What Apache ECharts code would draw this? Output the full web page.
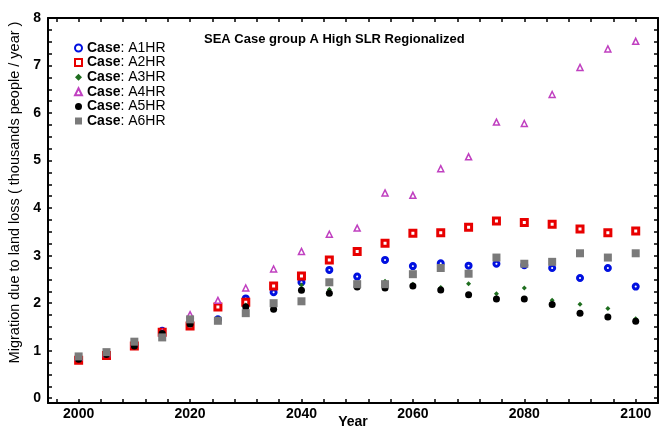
<!DOCTYPE html>
<html>
<head>
<meta charset="utf-8">
<script src="https://cdn.jsdelivr.net/npm/echarts@6/dist/echarts.min.js"></script>
<style>
  html, body { margin: 0; padding: 0; background: #fff; }
  #chart { width: 661px; height: 430px; }
</style>
</head>
<body>
<div id="chart"></div>
<script>
// years and values
const years = [2000, 2005, 2010, 2015, 2020, 2025, 2030, 2035, 2040, 2045, 2050,
               2055, 2060, 2065, 2070, 2075, 2080, 2085, 2090, 2095, 2100]
const a1hr = [0.85, 0.93, 1.12, 1.42, 1.58, 1.66, 2.10, 2.23, 2.44, 2.70, 2.56,
              2.91, 2.78, 2.84, 2.79, 2.83, 2.80, 2.74, 2.53, 2.74, 2.35]
const a2hr = [0.80, 0.90, 1.10, 1.39, 1.52, 1.92, 2.02, 2.36, 2.57, 2.91, 3.09,
              3.26, 3.47, 3.48, 3.60, 3.73, 3.70, 3.66, 3.56, 3.48, 3.52]
const a3hr = [0.85, 0.93, 1.12, 1.38, 1.60, 1.68, 1.96, 1.95, 2.38, 2.29, 2.38,
              2.46, 2.40, 2.33, 2.41, 2.20, 2.32, 2.06, 1.98, 1.89, 1.67]
const a4hr = [0.86, 0.94, 1.15, 1.38, 1.76, 2.06, 2.32, 2.72, 3.09, 3.45, 3.58,
              4.32, 4.27, 4.83, 5.08, 5.81, 5.78, 6.39, 6.96, 7.35, 7.51]
const a5hr = [0.82, 0.92, 1.10, 1.36, 1.56, 1.64, 1.92, 1.87, 2.27, 2.21, 2.34,
              2.32, 2.36, 2.28, 2.18, 2.09, 2.09, 1.97, 1.79, 1.71, 1.62]
const a6hr = [0.88, 0.97, 1.19, 1.28, 1.66, 1.63, 1.79, 2.00, 2.04, 2.44, 2.40,
              2.40, 2.61, 2.74, 2.62, 2.96, 2.83, 2.87, 3.05, 2.96, 3.05]

// tick labels and tick marks
const xLabels = [2000, 2020, 2040, 2060, 2080, 2100]
const xTicks = [1996, 2000, 2004, 2008, 2012, 2016, 2020, 2024, 2028, 2032, 2036, 2040,
                2044, 2048, 2052, 2056, 2060, 2064, 2068, 2072, 2076, 2080, 2084,
                2088, 2092, 2096, 2100, 2104]
const yLabels = [0, 1, 2, 3, 4, 5, 6, 7, 8]
const yTicks = [0, 0.25, 0.5, 0.75, 1, 1.25, 1.5, 1.75, 2, 2.25, 2.5, 2.75, 3, 3.25,
                3.5, 3.75, 4, 4.25, 4.5, 4.75, 5, 5.25, 5.5, 5.75, 6, 6.25, 6.5,
                6.75, 7, 7.25, 7.5, 7.75, 8]

const FONT = '"Liberation Sans", Arial, sans-serif'
const pairs = arr => years.map((y, i) => [y, arr[i]])

let chart = echarts.init(document.getElementById('chart'), null, { renderer: 'canvas' })

const axisLine = { show: true, onZero: false, lineStyle: { color: '#000', width: 2 } }
const tick = vals => ({ show: true, inside: true, length: 4, customValues: vals,
                        lineStyle: { color: '#000', width: 1.5 } })

let option = {
  animation: false,
  backgroundColor: '#fff',
  title: {
    text: 'SEA Case group A High SLR Regionalized',
    left: 199, top: 28,
    textStyle: { fontFamily: FONT, fontSize: 13, fontWeight: 'bold', color: '#000' }
  },
  legend: {
    orient: 'vertical',
    left: 69, top: 36,
    itemWidth: 7, itemHeight: 7, itemGap: 0.6,
    data: ['A1HR', 'A2HR', 'A3HR', 'A4HR', 'A5HR', 'A6HR'],
    formatter: n => '{b|Case}: ' + n,
    textStyle: {
      fontFamily: FONT, fontSize: 14, color: '#000', lineHeight: 14,
      rich: { b: { fontFamily: FONT, fontSize: 14, fontWeight: 'bold', color: '#000', lineHeight: 14 } }
    }
  },
  grid: { left: 48, right: 3, top: 18, bottom: 27, outerBoundsMode: 'none' },
  xAxis: [{
    type: 'value', min: 1994.5, max: 2104, position: 'bottom',
    name: 'Year', nameLocation: 'middle', nameGap: 12, nameMoveOverlap: false,
    nameTextStyle: { fontFamily: FONT, fontSize: 14, fontWeight: 'bold', color: '#000' },
    axisLine: axisLine, axisTick: tick(xTicks),
    axisLabel: { customValues: xLabels, margin: 4, fontFamily: FONT, fontSize: 14,
                 fontWeight: 'bold', color: '#000', formatter: v => String(v) },
    splitLine: { show: false }
  }, {
    type: 'value', min: 1994.5, max: 2104, position: 'top',
    axisLine: axisLine, axisTick: tick(xTicks),
    axisLabel: { show: false }, splitLine: { show: false }
  }],
  yAxis: [{
    type: 'value', min: -0.1, max: 8, position: 'left',
    name: 'Migration due to land loss ( thousands people / year )',
    nameLocation: 'middle', nameGap: 26, nameMoveOverlap: false,
    nameTextStyle: { fontFamily: FONT, fontSize: 14.5, color: '#000', padding: [0, 0, 0, 36] },
    axisLine: axisLine, axisTick: tick(yTicks),
    axisLabel: { customValues: yLabels, margin: 7, fontFamily: FONT, fontSize: 14,
                 fontWeight: 'bold', color: '#000' },
    splitLine: { show: false }
  }, {
    type: 'value', min: -0.1, max: 8, position: 'right',
    axisLine: axisLine, axisTick: tick(yTicks),
    axisLabel: { show: false }, splitLine: { show: false }
  }],
  series: [
    { name: 'A1HR', type: 'scatter', data: pairs(a1hr), symbol: 'circle', symbolSize: 5,
      itemStyle: { color: '#fff', borderColor: '#0010e0', borderWidth: 3, opacity: 1 } },
    { name: 'A2HR', type: 'scatter', data: pairs(a2hr), symbol: 'rect', symbolSize: 6,
      itemStyle: { color: '#fff', borderColor: '#e80000', borderWidth: 3, opacity: 1 } },
    { name: 'A3HR', type: 'scatter', data: pairs(a3hr), symbol: 'diamond', symbolSize: 5,
      itemStyle: { color: '#1f6e1f', opacity: 1 } },
    { name: 'A4HR', type: 'scatter', data: pairs(a4hr), symbol: 'triangle', symbolSize: 6,
      itemStyle: { color: '#fff', borderColor: '#c040c0', borderWidth: 1.5, opacity: 1 } },
    { name: 'A5HR', type: 'scatter', data: pairs(a5hr), symbol: 'circle', symbolSize: 7,
      itemStyle: { color: '#000', opacity: 1 } },
    { name: 'A6HR', type: 'scatter', data: pairs(a6hr), symbol: 'rect', symbolSize: 8,
      itemStyle: { color: '#7a7a7a', opacity: 1 } }
  ]
}
chart.setOption(option)
</script>
</body>
</html>
